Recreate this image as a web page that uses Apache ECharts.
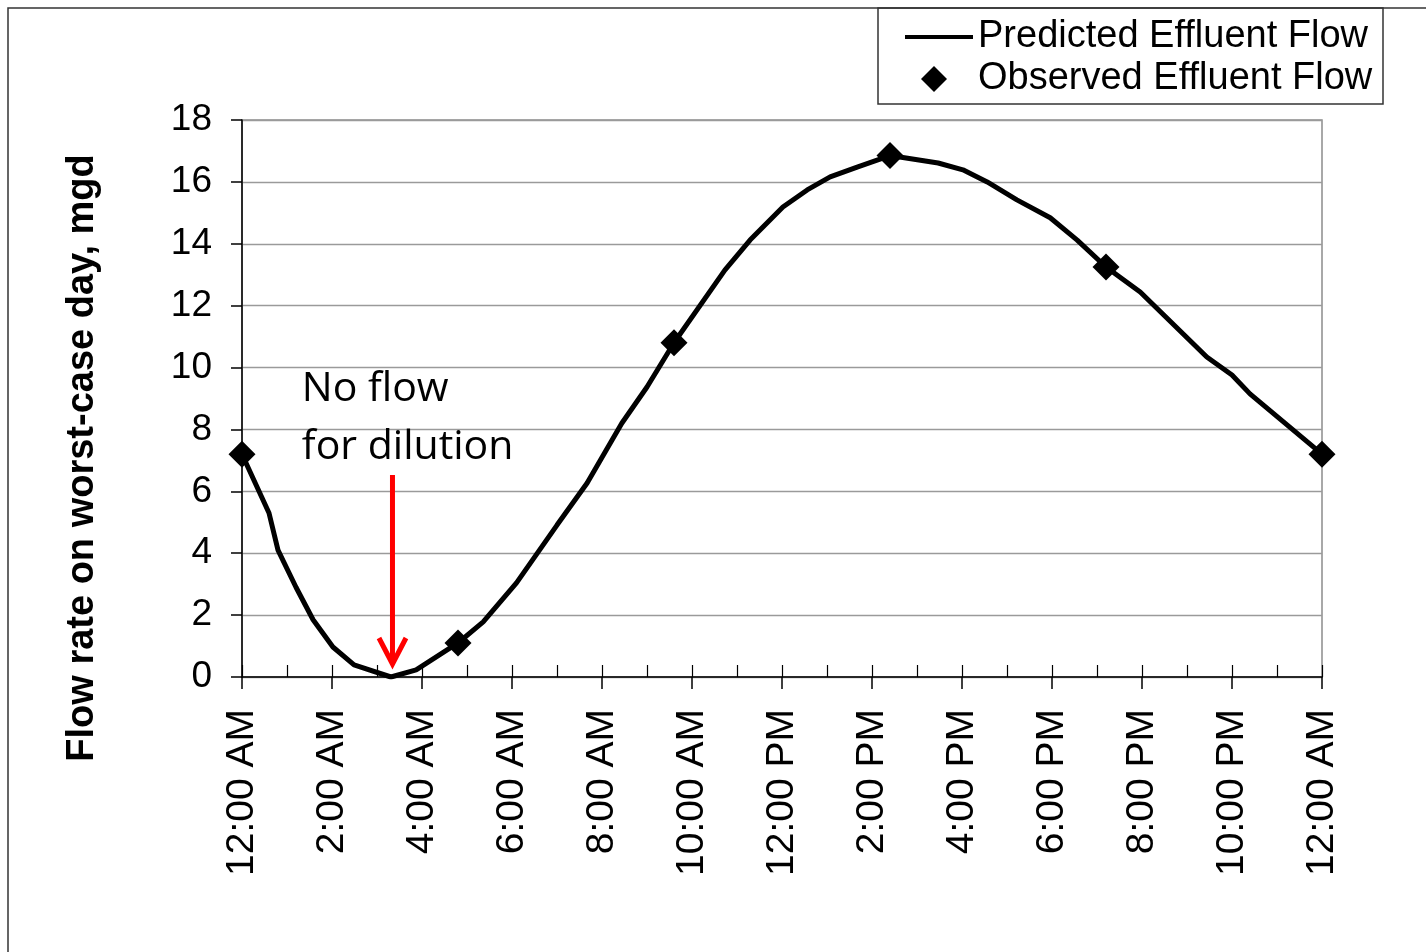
<!DOCTYPE html>
<html>
<head>
<meta charset="utf-8">
<script src="https://cdn.jsdelivr.net/npm/echarts@6/dist/echarts.min.js"></script>
<style>
html,body{margin:0;padding:0;background:#fff;}
#chart{width:1426px;height:952px;}
</style>
</head>
<body>
<div id="chart"></div>
<script>
// ---- data (hours after midnight, flow in mgd) ----
const predictedHours = [0, 0.6, 0.8, 1.2, 1.58, 2.02, 2.49, 3.31, 3.87, 4.8, 5.36, 6.1, 7.0, 7.67, 8.44, 9.0, 9.6, 10.73, 11.29, 12.02, 12.56, 13.07, 13.67, 14.4, 15.47, 16.02, 16.56, 17.22, 17.96, 18.56, 19.2, 19.96, 21.44, 22.0, 22.4, 24];
const predictedFlow  = [7.2, 5.3, 4.1, 2.9, 1.85, 0.97, 0.39, 0.0, 0.23, 1.1, 1.78, 3.04, 4.91, 6.27, 8.2, 9.37, 10.8, 13.15, 14.12, 15.19, 15.74, 16.16, 16.48, 16.85, 16.61, 16.39, 16.0, 15.42, 14.84, 14.12, 13.25, 12.44, 10.34, 9.76, 9.15, 7.2];
const observedHours  = [0, 4.8, 9.6, 14.4, 19.2, 24];
const observedFlow   = [7.2, 1.1, 10.8, 16.85, 13.25, 7.2];
const xTickLabels = ['12:00 AM','2:00 AM','4:00 AM','6:00 AM','8:00 AM','10:00 AM','12:00 PM','2:00 PM','4:00 PM','6:00 PM','8:00 PM','10:00 PM','12:00 AM'];
const yAxisTitle = 'Flow rate on worst-case day, mgd';
const annotationText = ['No flow', 'for dilution'];
const arrowHour = 3.344, arrowTopFlow = 6.53, arrowTipFlow = 0.42;

const FONT = '"Liberation Sans", Arial, sans-serif';
const chart = echarts.init(document.getElementById('chart'));

const staticGraphics = [
  { type: 'rect', shape: { x: 8, y: 8, width: 1440, height: 980 }, style: { fill: 'none', stroke: '#333', lineWidth: 1.5 }, silent: true, z: -1 },
  { type: 'rect', shape: { x: 878, y: 8, width: 505, height: 96 }, style: { fill: 'none', stroke: '#333', lineWidth: 1.5 }, silent: true },
  { type: 'text', x: 83, y: 458, rotation: Math.PI / 2,
    style: { text: yAxisTitle, font: 'bold 38px "Liberation Sans", Arial, sans-serif', fill: '#000', textAlign: 'center', textVerticalAlign: 'middle' }, silent: true }
];

const option = {
  animation: false,
  backgroundColor: '#fff',
  grid: { left: 242, top: 120, right: 104, bottom: 275, show: true, borderColor: '#8c8c8c', borderWidth: 1.5, containLabel: false },
  xAxis: [{
    type: 'value', min: 0, max: 24, interval: 2, position: 'bottom',
    axisLine: { show: true, onZero: false, lineStyle: { color: '#000', width: 1.5 } },
    axisTick: { show: true, inside: false, length: 12, lineStyle: { color: '#000', width: 1.5 } },
    splitLine: { show: false },
    axisLabel: { rotate: 90, margin: 32, fontFamily: FONT, fontSize: 39, color: '#000',
      formatter: v => xTickLabels[Math.round(v / 2)] }
  }, {
    type: 'value', min: 0, max: 24, interval: 1, position: 'bottom',
    axisLine: { show: false },
    axisTick: { show: true, inside: true, length: 12, lineStyle: { color: '#000', width: 1.2 } },
    splitLine: { show: false },
    axisLabel: { show: false }
  }],
  yAxis: {
    type: 'value', min: 0, max: 18, interval: 2,
    axisLine: { show: true, lineStyle: { color: '#000', width: 1.5 } },
    axisTick: { show: true, inside: false, length: 11, lineStyle: { color: '#000', width: 1.5 } },
    splitLine: { show: true, lineStyle: { color: '#9a9a9a', width: 1.3 } },
    axisLabel: { margin: 30, fontFamily: FONT, fontSize: 37, color: '#000' }
  },
  legend: [{
    data: [{ name: 'Predicted Effluent Flow', icon: 'rect' }],
    left: 905, top: 18, padding: 0, itemWidth: 68, itemHeight: 4,
    textStyle: { fontFamily: FONT, fontSize: 38, color: '#000' },
    selectedMode: false
  }, {
    data: [{ name: 'Observed Effluent Flow', icon: 'diamond' }],
    left: 921, top: 60, padding: 0, itemWidth: 26, itemHeight: 26,
    textStyle: { fontFamily: FONT, fontSize: 38, color: '#000', padding: [0, 0, 0, 26] },
    itemStyle: { opacity: 1, color: '#000' },
    selectedMode: false
  }],
  series: [{
    name: 'Predicted Effluent Flow', type: 'line', xAxisIndex: 0,
    data: predictedHours.map((h, i) => [h, predictedFlow[i]]),
    symbol: 'none', smooth: false,
    lineStyle: { color: '#000', width: 5 }, itemStyle: { color: '#000' }, z: 3
  }, {
    name: 'Observed Effluent Flow', type: 'scatter', xAxisIndex: 0,
    data: observedHours.map((h, i) => [h, observedFlow[i]]),
    symbol: 'diamond', symbolSize: [27, 27],
    itemStyle: { color: '#000', opacity: 1 }, z: 4
  }],
  graphic: staticGraphics
};
chart.setOption(option);

// annotation placed through the axes' scales
const arrowTop = chart.convertToPixel({ gridIndex: 0 }, [arrowHour, arrowTopFlow]);
const arrowTip = chart.convertToPixel({ gridIndex: 0 }, [arrowHour, arrowTipFlow]);
const textAnchor = chart.convertToPixel({ gridIndex: 0 }, [1.33, 9.3]);
chart.setOption({
  graphic: staticGraphics.concat([
    { type: 'line', shape: { x1: arrowTop[0], y1: arrowTop[1], x2: arrowTip[0], y2: arrowTip[1] - 2 }, style: { stroke: '#ff0000', lineWidth: 5 }, z: 10 },
    { type: 'polyline', shape: { points: [[arrowTip[0] - 13.5, arrowTip[1] - 26], [arrowTip[0], arrowTip[1]], [arrowTip[0] + 13.5, arrowTip[1] - 26]] }, style: { stroke: '#ff0000', lineWidth: 5, fill: 'none', lineJoin: 'miter' }, z: 10 },
    { type: 'text', x: textAnchor[0], y: textAnchor[1], style: { text: annotationText[0], font: '41px "Open Sans", sans-serif', fill: '#000', textVerticalAlign: 'middle', textAlign: 'left' }, z: 10 },
    { type: 'text', x: textAnchor[0], y: textAnchor[1] + 58, style: { text: annotationText[1], font: '41px "Open Sans", sans-serif', fill: '#000', textVerticalAlign: 'middle', textAlign: 'left' }, z: 10 }
  ])
}, { replaceMerge: ['graphic'] });
</script>
</body>
</html>
